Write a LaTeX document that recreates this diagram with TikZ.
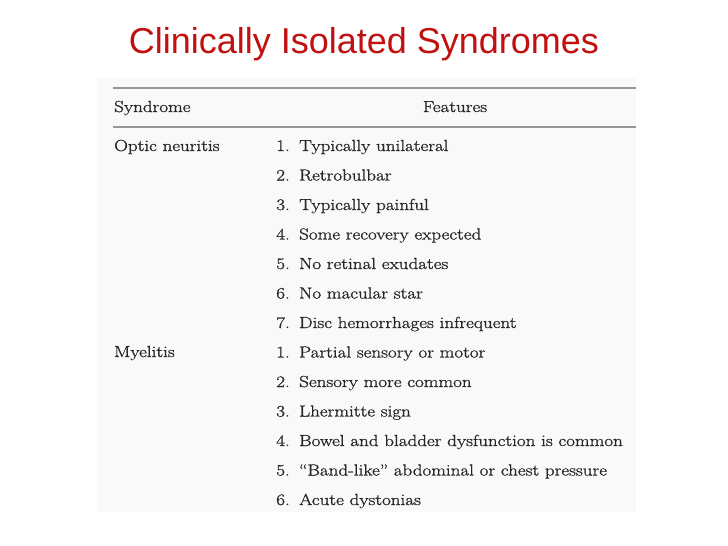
\documentclass[tikz,border=0pt]{standalone}
\usepackage{fontspec}
\newfontfamily\titlefont{Liberation Sans}
\newfontfamily\tabfont[Ligatures=TeX,FakeStretch=1.19,FakeBold=1.1]{Latin Modern Roman}
\definecolor{tred}{RGB}{192,16,16}
\definecolor{rulec}{RGB}{150,150,150}
\definecolor{bgc}{RGB}{249,249,249}
\begin{document}
\begin{tikzpicture}[x=1pt,y=-1pt,
  cell/.style={anchor=base west,inner sep=0pt,text=black!85,font=\tabfont\fontsize{16}{18}\selectfont},
  num/.style={anchor=base east,inner sep=0pt,text=black!85,font=\tabfont\fontsize{16}{18}\selectfont}]
\useasboundingbox (0,0) rectangle (728,546);
\fill[bgc] (98,78) rectangle (636,512);
\node[font=\titlefont\fontsize{36}{40}\selectfont,text=tred,anchor=base] (title) at (364,53) {Clinically Isolated Syndromes};
\draw[rulec,line width=1.5pt] (113,88) -- (636,88);
\draw[rulec,line width=1.5pt] (113,127) -- (636,127);
\node[cell] (h1) at (114,112) {Syndrome};
\node[anchor=base,inner sep=0pt,text=black!85,font=\tabfont\fontsize{16}{18}\selectfont] (h2) at (455,112) {Features};
\node[cell] (s1) at (114,151) {Optic neuritis};
\node[cell] (s2) at (114,357) {Myelitis};
\foreach \n/\t [count=\i from 0] in {1/Typically unilateral,2/Retrobulbar,3/Typically painful,4/Some recovery expected,5/No retinal exudates,6/No macular star,7/Disc hemorrhages infrequent,1/Partial sensory or motor,2/Sensory more common,3/Lhermitte sign,4/Bowel and bladder dysfunction is common,5/“Band-like” abdominal or chest pressure,6/Acute dystonias}{
  \node[num] (n\i) at (290,151+29.5*\i) {\n.};
  \node[cell] (f\i) at (299,151+29.5*\i) {\t};
}
\end{tikzpicture}
\end{document}
